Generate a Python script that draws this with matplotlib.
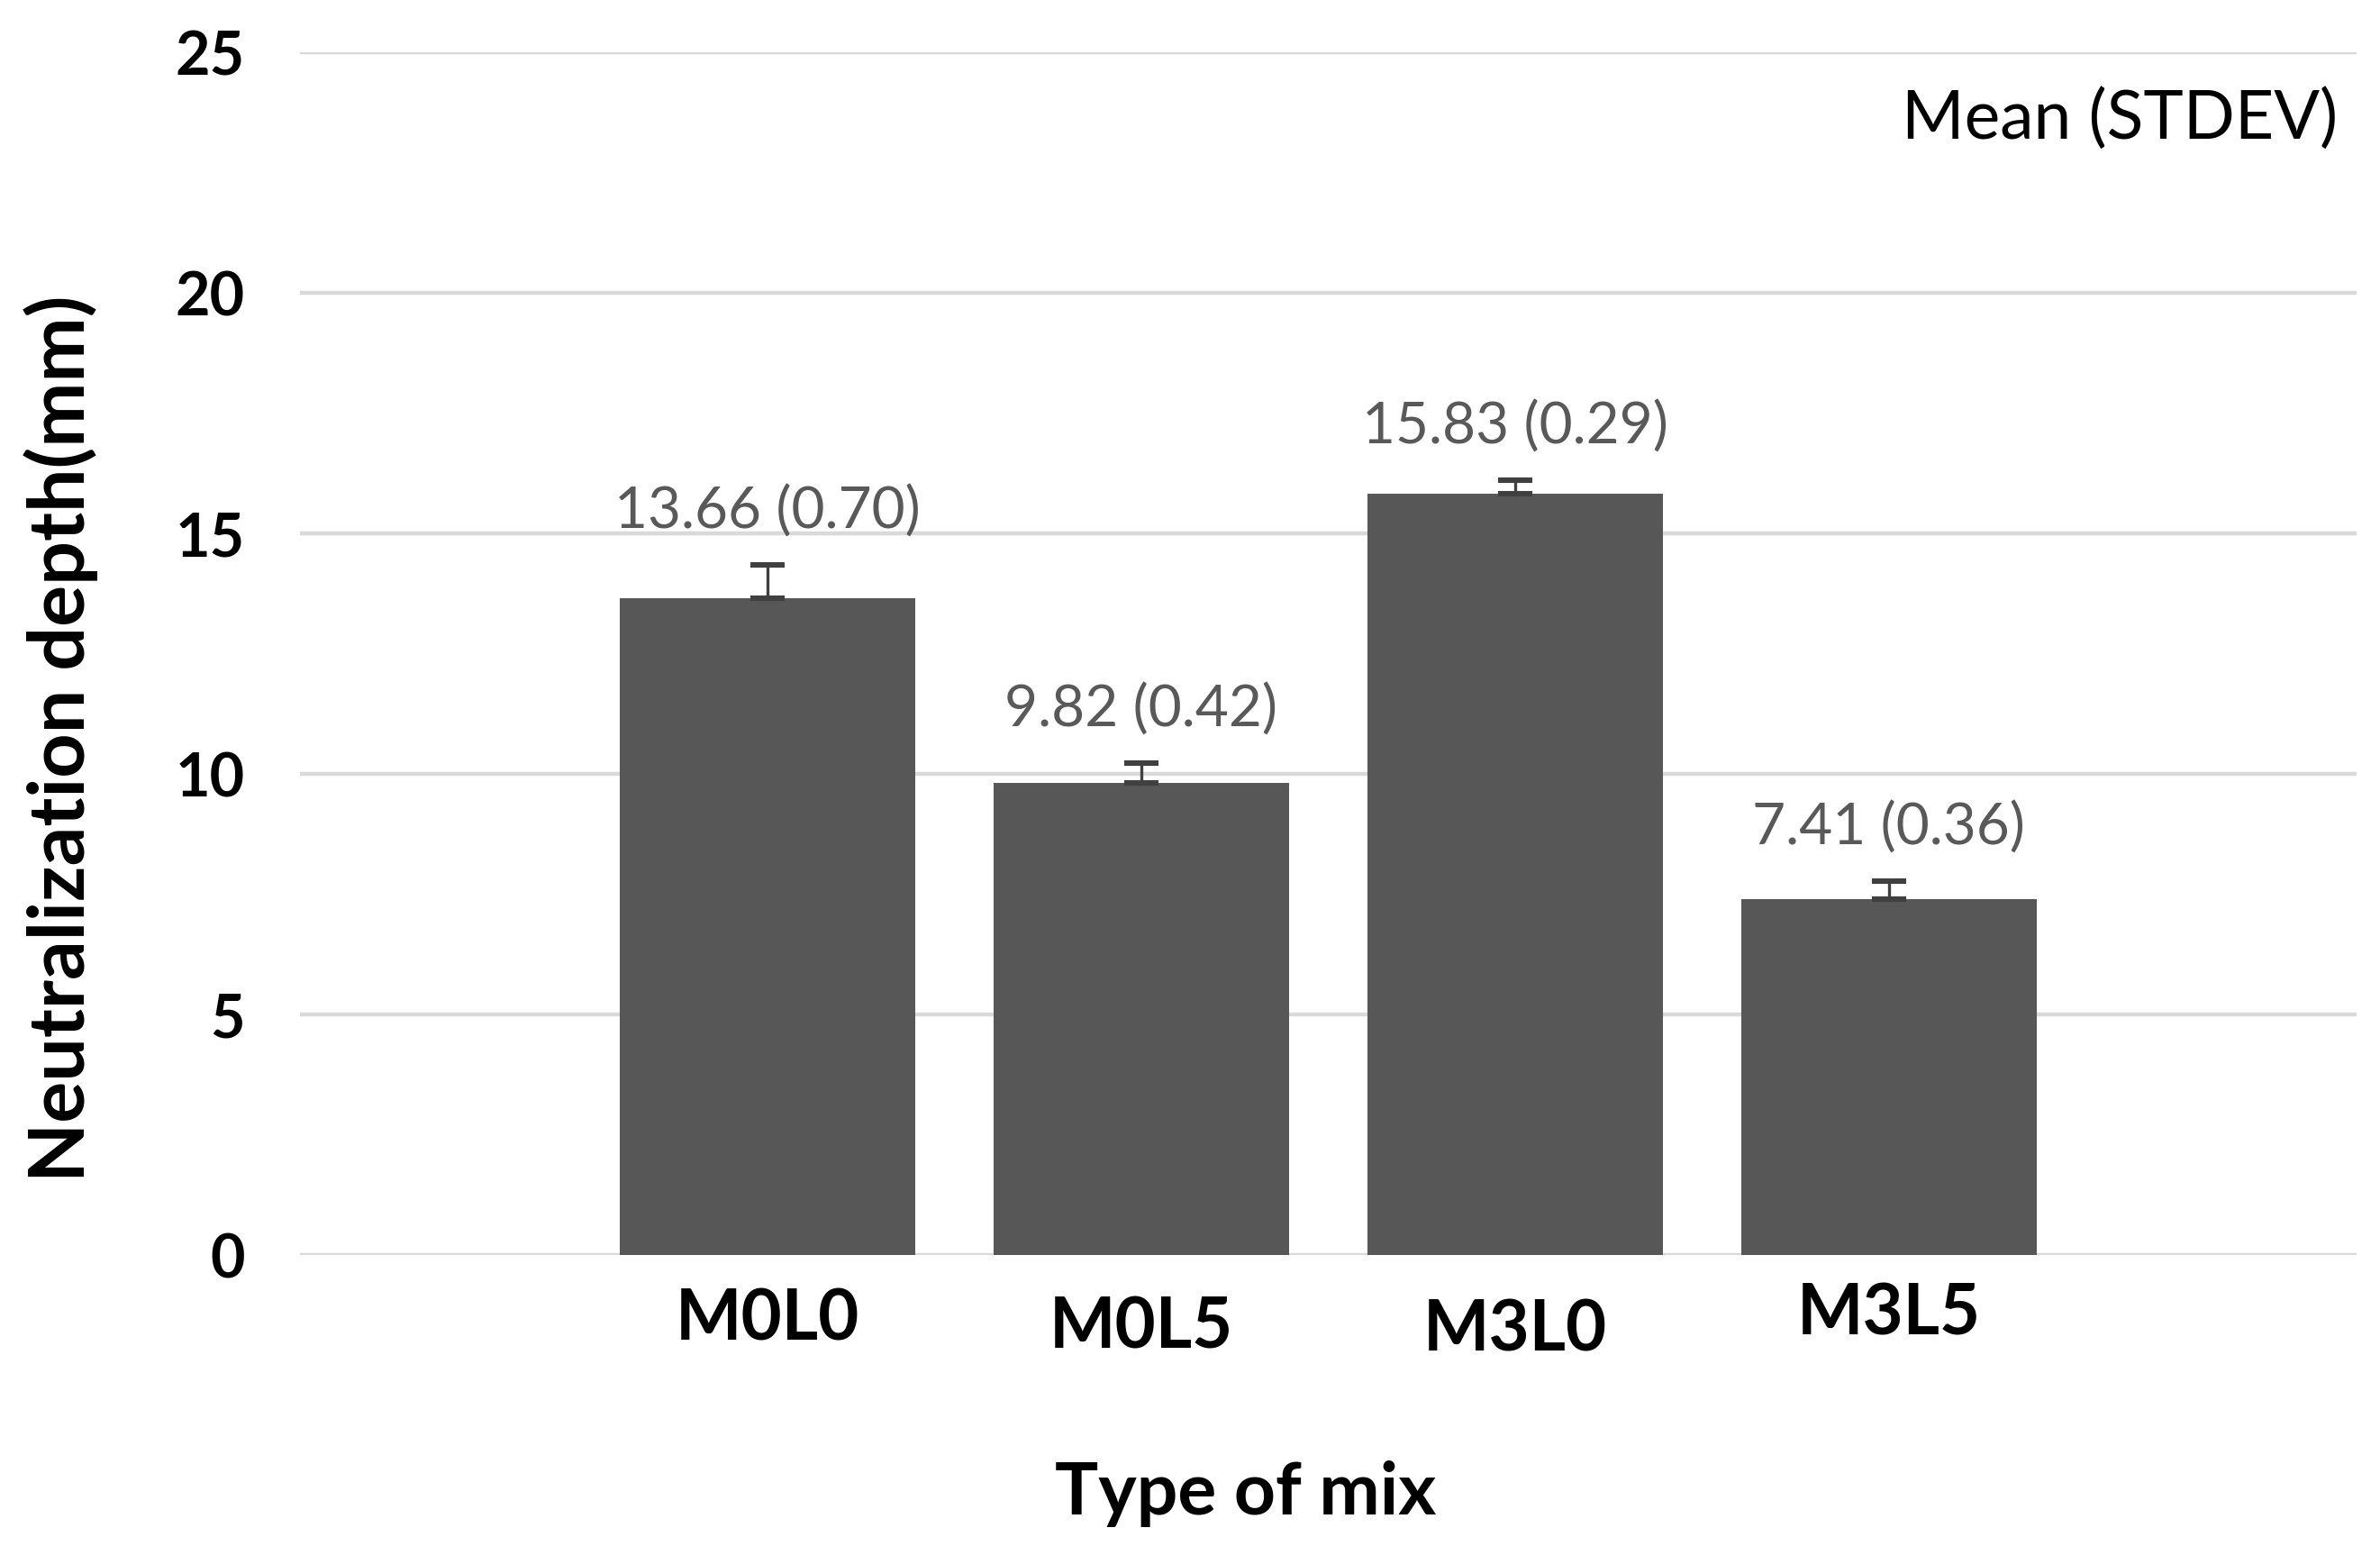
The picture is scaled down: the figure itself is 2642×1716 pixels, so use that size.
import matplotlib
matplotlib.use("Agg")
import matplotlib.pyplot as plt
from matplotlib.transforms import ScaledTranslation

mixes = ["M0L0", "M0L5", "M3L0", "M3L5"]
means = [13.66, 9.82, 15.83, 7.41]
stdevs = [0.70, 0.42, 0.29, 0.36]

plt.rcParams['font.family'] = ['Lato', 'DejaVu Sans']

fig = plt.figure(figsize=(13.21, 8.58), dpi=200)
ax = fig.add_axes([0.126, 0.188, 0.864, 0.778])

x = list(range(len(mixes)))
ax.bar(x, means, width=0.79, color='#575757', zorder=2)
ax.errorbar(x, means, yerr=[[0] * len(stdevs), stdevs], fmt='none',
            ecolor='#404040', elinewidth=1.2, capsize=7, capthick=2.2, zorder=3)

for i, (m, s) in enumerate(zip(means, stdevs)):
    ax.text(i, m + s + 0.55, f"{m:.2f} ({s:.2f})", ha='center', va='bottom',
            fontsize=23, color='#595959')

ax.set_xlim(-1.25, 4.25)
ax.set_ylim(0, 25)
ax.set_yticks([0, 5, 10, 15, 20, 25])
ax.grid(axis='y', color='#d9d9d9', linewidth=1.6, zorder=0)
for sp in ax.spines.values():
    sp.set_visible(False)

ax.set_xticks(x)
ax.set_xticklabels(mixes, fontsize=28, fontweight='bold')
ax.tick_params(axis='x', length=0, pad=14)
ax.tick_params(axis='y', length=0, pad=22, labelsize=24)
for lab in ax.get_yticklabels():
    lab.set_fontweight('bold')

# the category labels in the original sit slightly staggered
shifts = [1.0, -2.4, -3.4, 3.0]
for lab, dy in zip(ax.get_xticklabels(), shifts):
    lab.set_transform(lab.get_transform() + ScaledTranslation(0, dy / 72, fig.dpi_scale_trans))

ax.set_ylabel('Neutralization depth(mm)', fontsize=31, fontweight='bold', va='center')
ax.yaxis.set_label_coords(-0.116, 0.43)
ax.set_xlabel('Type of mix', fontsize=29, fontweight='bold', va='center')
ax.xaxis.set_label_coords(0.46, -0.198)

ax.text(0.991, 0.945, 'Mean (STDEV)', transform=ax.transAxes, ha='right', va='center',
        fontsize=27, color='black')

fig.savefig('out.png', dpi=200)
